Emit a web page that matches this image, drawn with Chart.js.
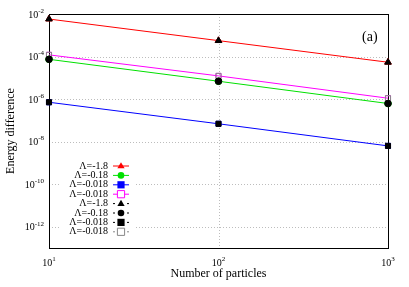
<!DOCTYPE html>
<html>
<head>
<meta charset="utf-8">
<script src="https://cdn.jsdelivr.net/npm/chart.js@4/dist/chart.umd.min.js"></script>
<style>
  html, body { margin: 0; padding: 0; background: #fff; }
  #wrap { width: 409px; height: 287px; }
</style>
</head>
<body>
<div id="wrap"><canvas id="c" width="409" height="287"></canvas></div>
<script>
// data
const particles = [10, 100, 1000];
const lam18 = [5.8e-3, 5.6e-4, 5.4e-5];
const lam018 = [7.4e-5, 6.9e-6, 6.2e-7];
const lam0018a = [7.1e-7, 6.9e-8, 6.3e-9];
const lam0018b = [1.2e-4, 1.23e-5, 1.1e-6];
const legendLabels = ['Λ=-1.8', 'Λ=-0.18', 'Λ=-0.018', 'Λ=-0.018', 'Λ=-1.8', 'Λ=-0.18', 'Λ=-0.018', 'Λ=-0.018'];
const yTicks = [1e-12, 1e-10, 1e-8, 1e-6, 1e-4, 1e-2];
const xTicks = [10, 100, 1000];

const FONT = "'Liberation Serif', 'DejaVu Serif', serif";
Chart.defaults.font.family = FONT;
Chart.defaults.color = '#000';

const pts = (ys) => particles.map((x, i) => ({ x: x, y: ys[i] }));

// series: colored lines with markers, then black markers only
const series = [
  { data: lam18, color: '#ff0000', style: 'triangle', fill: true, line: true },
  { data: lam018, color: '#00e000', style: 'circle', fill: true, line: true },
  { data: lam0018a, color: '#0000ff', style: 'rect', fill: true, line: true },
  { data: lam0018b, color: '#ff00ff', style: 'rect', fill: false, line: true },
  { data: lam18, color: '#000', style: 'triangle', fill: true, line: false },
  { data: lam018, color: '#000', style: 'circle', fill: true, line: false },
  { data: lam0018a, color: '#000', style: 'rect', fill: true, line: false },
  { data: lam0018b, color: '#888', style: 'rect', fill: false, line: false },
];

const sizeOf = (s) => s.style === 'circle' ? 3.3 : (s.style === 'triangle' ? 3.8 : 3.6);

// draw one marker by hand (used in the legend)
function marker(ctx, s, x, y) {
  const r = sizeOf(s);
  ctx.save();
  ctx.beginPath();
  if (s.style === 'circle') {
    ctx.arc(x, y, r, 0, Math.PI * 2);
  } else if (s.style === 'triangle') {
    ctx.moveTo(x, y - r);
    ctx.lineTo(x + r * 0.95, y + r * 0.6);
    ctx.lineTo(x - r * 0.95, y + r * 0.6);
    ctx.closePath();
  } else {
    ctx.rect(x - r, y - r, r * 2, r * 2);
  }
  if (s.fill) {
    ctx.fillStyle = s.color;
    ctx.fill();
  } else {
    ctx.fillStyle = '#fff';
    ctx.fill();
    ctx.strokeStyle = s.color;
    ctx.lineWidth = 1;
    ctx.stroke();
  }
  ctx.restore();
}

// "10" with a raised exponent
function powLabel(ctx, v, x, y, align) {
  const e = String(Math.round(Math.log10(v)));
  ctx.font = '10px ' + FONT;
  const wb = ctx.measureText('10').width;
  ctx.font = '7px ' + FONT;
  const we = ctx.measureText(e).width;
  let left = x;
  if (align === 'right') left = x - wb - we;
  if (align === 'center') left = x - (wb + we) / 2;
  ctx.textAlign = 'left';
  ctx.textBaseline = 'middle';
  ctx.font = '10px ' + FONT;
  ctx.fillText('10', left, y);
  ctx.font = '7px ' + FONT;
  ctx.fillText(e, left + wb, y - 4);
}

const framePlugin = {
  id: 'frame',
  beforeDatasetsDraw(chart) {
    const a = chart.chartArea;
    const ctx = chart.ctx;
    const xs = chart.scales.x, ys = chart.scales.y;
    ctx.save();
    // dotted grid
    ctx.strokeStyle = '#bdbdbd';
    ctx.lineWidth = 1;
    ctx.setLineDash([1, 2]);
    ctx.beginPath();
    yTicks.forEach(v => {
      const py = Math.round(ys.getPixelForValue(v)) + 0.5;
      if (py > a.top + 2 && py < a.bottom - 2) { ctx.moveTo(a.left, py); ctx.lineTo(a.right, py); }
    });
    xTicks.forEach(v => {
      const px = Math.round(xs.getPixelForValue(v)) + 0.5;
      if (px > a.left + 2 && px < a.right - 2) { ctx.moveTo(px, a.top); ctx.lineTo(px, a.bottom); }
    });
    ctx.stroke();
    ctx.setLineDash([]);
    // frame
    ctx.strokeStyle = '#000';
    ctx.strokeRect(Math.round(a.left) + 0.5, Math.round(a.top) + 0.5, Math.round(a.right - a.left), Math.round(a.bottom - a.top));
    // tick labels
    ctx.fillStyle = '#000';
    yTicks.forEach(v => powLabel(ctx, v, 44, ys.getPixelForValue(v) + 1, 'right'));
    xTicks.forEach(v => powLabel(ctx, v, xs.getPixelForValue(v), a.bottom + 15, 'center'));
    // "(a)" label
    ctx.font = '14px ' + FONT;
    ctx.textAlign = 'left';
    ctx.textBaseline = 'middle';
    ctx.fillText('(a)', 362, 37);
    ctx.restore();
  }
};

const legendPlugin = {
  id: 'boxlegend',
  afterDatasetsDraw(chart) {
    const ctx = chart.ctx;
    ctx.save();
    ctx.fillStyle = '#fff';
    ctx.fillRect(60, 159, 76, 79);
    ctx.font = '10px ' + FONT;
    ctx.textAlign = 'right';
    ctx.textBaseline = 'middle';
    series.forEach((s, i) => {
      const y = 166 + i * 9.4;
      ctx.fillStyle = '#000';
      ctx.fillText(legendLabels[i], 108, y);
      ctx.strokeStyle = s.color;
      ctx.lineWidth = 1;
      ctx.beginPath();
      if (s.line) {
        ctx.moveTo(113, y); ctx.lineTo(129, y);
      } else {
        ctx.moveTo(113, y); ctx.lineTo(115, y);
        ctx.moveTo(127, y); ctx.lineTo(129, y);
      }
      ctx.stroke();
      marker(ctx, s, 121, y);
    });
    ctx.restore();
  }
};

new Chart(document.getElementById('c'), {
  type: 'line',
  data: {
    datasets: series.map((s, i) => ({
      label: legendLabels[i],
      data: pts(s.data),
      order: s.line ? 1 : 0,
      borderColor: s.color,
      backgroundColor: s.fill ? s.color : '#fff',
      borderWidth: 1,
      showLine: s.line,
      pointStyle: s.style,
      pointRadius: sizeOf(s),
      pointBorderWidth: 1,
      pointBorderColor: s.color,
      pointBackgroundColor: s.fill ? s.color : 'rgba(0,0,0,0)',
      clip: false,
    })),
  },
  options: {
    responsive: false,
    animation: false,
    layout: { padding: { top: 14, right: 21, left: 0, bottom: 0 } },
    plugins: { legend: { display: false }, tooltip: { enabled: false } },
    scales: {
      x: {
        type: 'logarithmic',
        min: 10,
        max: 1000,
        afterBuildTicks: (s) => { s.ticks = xTicks.map(v => ({ value: v })); },
        afterFit: (s) => { s.height = 39; },
        ticks: { display: false },
        grid: { display: false },
        border: { display: false },
        title: { display: true, text: 'Number of particles', font: { size: 12 }, padding: { top: 0, bottom: 6 } },
      },
      y: {
        type: 'logarithmic',
        min: 1e-13,
        max: 1e-2,
        afterBuildTicks: (s) => { s.ticks = yTicks.map(v => ({ value: v })); },
        afterFit: (s) => { s.width = 49; },
        ticks: { display: false },
        grid: { display: false },
        border: { display: false },
        title: { display: true, text: 'Energy difference', font: { size: 12 }, padding: { top: 4, bottom: 0 } },
      },
    },
  },
  plugins: [framePlugin, legendPlugin],
});
</script>
</body>
</html>
